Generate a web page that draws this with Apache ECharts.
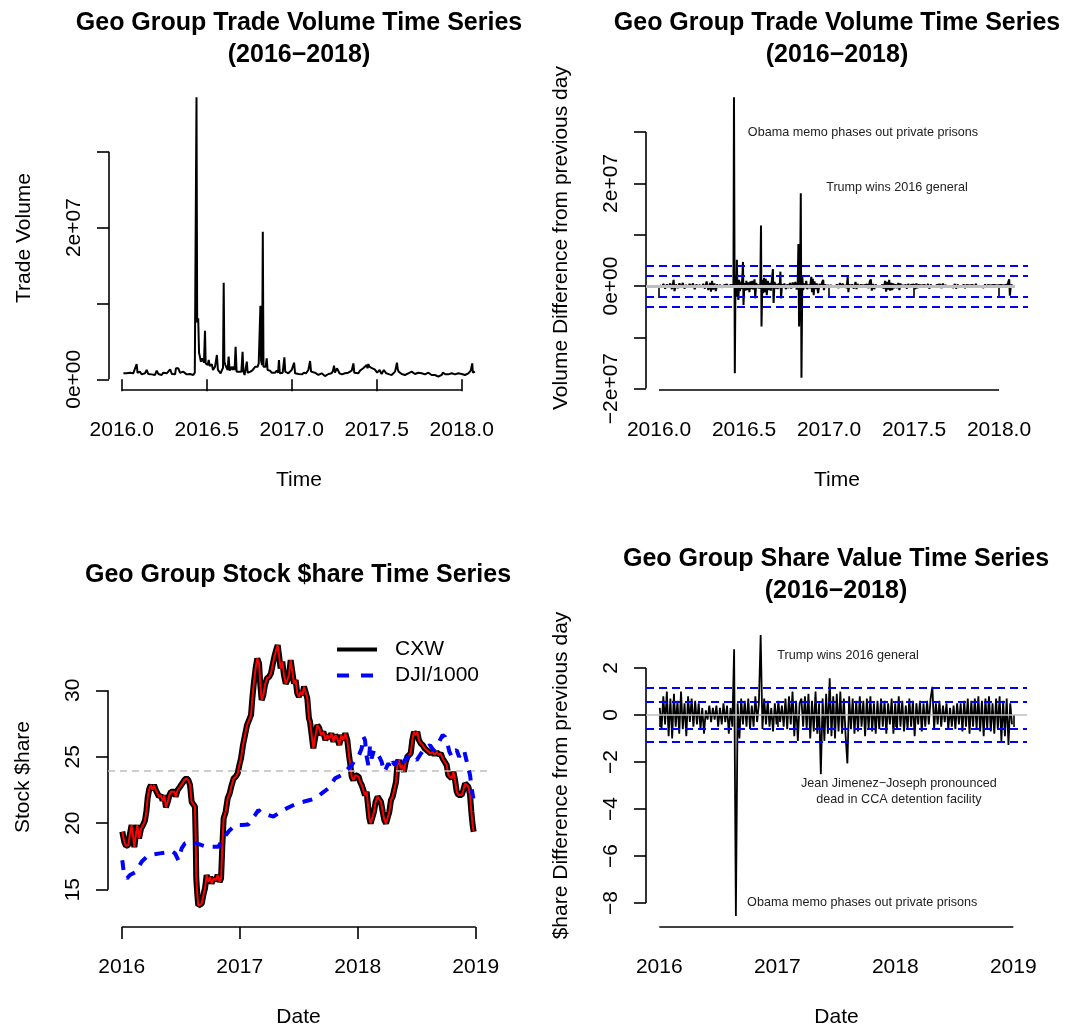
<!DOCTYPE html>
<html>
<head>
<meta charset="utf-8">
<title>Geo Group time series</title>
<script src="https://cdn.jsdelivr.net/npm/echarts@6/dist/echarts.min.js"></script>
<style>
  html, body { margin: 0; padding: 0; background: #fff; }
  #main { width: 1067px; height: 1029px; }
</style>
</head>
<body>
<div id="main"></div>
<script>
// ---------- data ----------
// daily trade volume: [decimal year, millions of shares]
const volume = [
  [2016.010,0.79],[2016.020,0.65],[2016.029,0.79],[2016.039,0.70],[2016.049,0.87],[2016.058,0.65],[2016.068,0.79],[2016.078,0.70],
  [2016.088,2.02],[2016.093,0.87],[2016.098,0.70],[2016.108,1.01],[2016.117,0.65],[2016.127,0.87],[2016.137,0.79],[2016.147,1.23],
  [2016.156,0.70],[2016.166,0.87],[2016.176,0.65],[2016.186,0.79],[2016.196,0.57],[2016.206,1.14],[2016.216,0.70],[2016.225,0.79],
  [2016.235,0.57],[2016.245,0.87],[2016.255,0.65],[2016.265,0.79],[2016.275,0.57],[2016.285,1.31],[2016.295,0.70],[2016.304,0.79],
  [2016.314,0.65],[2016.319,1.45],[2016.326,1.31],[2016.333,1.45],[2016.343,0.87],[2016.353,0.70],[2016.363,1.01],[2016.372,0.79],
  [2016.382,0.65],[2016.392,0.87],[2016.402,0.70],[2016.412,0.79],[2016.421,0.57],[2016.430,0.87],[2016.436,0.79],[2016.440,37.17],
  [2016.444,7.5],[2016.450,8.04],[2016.455,3.5],[2016.460,2.98],[2016.466,2.32],[2016.472,2.76],[2016.478,2.54],[2016.484,2.2],
  [2016.490,6.41],[2016.494,2.1],[2016.500,2.32],[2016.506,1.88],[2016.512,2.54],[2016.518,1.75],[2016.524,1.67],[2016.530,2.0],
  [2016.537,1.23],[2016.543,1.4],[2016.549,1.67],[2016.555,1.88],[2016.560,3.20],[2016.566,1.23],[2016.572,1.0],[2016.582,0.79],
  [2016.590,1.23],[2016.596,1.5],[2016.600,12.74],[2016.604,2.32],[2016.610,1.88],[2016.617,1.67],[2016.623,1.23],[2016.629,2.98],
  [2016.635,1.14],[2016.641,1.0],[2016.647,1.67],[2016.652,1.23],[2016.658,1.67],[2016.664,1.23],[2016.670,4.30],[2016.676,1.01],
  [2016.684,0.79],[2016.690,1.01],[2016.697,1.23],[2016.704,1.01],[2016.711,3.64],[2016.716,1.01],[2016.723,0.57],[2016.731,0.79],
  [2016.736,2.32],[2016.741,0.87],[2016.751,0.79],[2016.758,1.01],[2016.764,1.14],[2016.771,1.23],[2016.778,1.45],[2016.786,1.67],
  [2016.794,1.88],[2016.800,1.67],[2016.806,2.1],[2016.812,2.32],[2016.816,9.70],[2016.820,2.4],[2016.826,1.88],[2016.830,19.46],
  [2016.834,1.67],[2016.840,1.88],[2016.847,1.67],[2016.853,2.76],[2016.858,1.23],[2016.864,1.01],[2016.872,1.14],[2016.882,0.87],
  [2016.892,0.79],[2016.902,0.87],[2016.912,1.14],[2016.920,0.87],[2016.925,2.54],[2016.930,0.79],[2016.938,0.87],[2016.947,0.87],
  [2016.957,2.90],[2016.962,1.01],[2016.970,0.87],[2016.980,0.79],[2016.990,0.79],[2017.000,1.23],[2017.010,1.0],[2017.014,2.19],
  [2017.020,0.79],[2017.030,0.57],[2017.040,0.70],[2017.050,0.57],[2017.060,0.65],[2017.072,0.87],[2017.084,0.79],[2017.098,1.23],
  [2017.108,2.41],[2017.114,1.01],[2017.124,0.87],[2017.137,0.87],[2017.147,0.65],[2017.157,0.57],[2017.166,0.79],[2017.176,0.79],
  [2017.186,0.57],[2017.196,0.43],[2017.206,0.65],[2017.216,0.70],[2017.226,0.79],[2017.235,0.79],[2017.243,1.14],[2017.249,1.80],
  [2017.254,0.87],[2017.259,0.87],[2017.266,1.45],[2017.274,1.45],[2017.281,0.79],[2017.288,0.79],[2017.296,0.65],[2017.304,0.57],
  [2017.313,0.79],[2017.323,0.79],[2017.333,0.87],[2017.343,1.01],[2017.353,1.14],[2017.363,2.10],[2017.368,0.87],[2017.377,0.87],
  [2017.392,0.79],[2017.402,1.14],[2017.412,1.23],[2017.421,1.45],[2017.431,1.67],[2017.441,1.88],[2017.446,1.45],[2017.451,2.02],
  [2017.456,1.67],[2017.461,1.67],[2017.466,1.88],[2017.470,1.88],[2017.475,1.45],[2017.480,1.45],[2017.488,1.31],[2017.496,1.31],
  [2017.503,0.87],[2017.510,0.79],[2017.517,1.23],[2017.523,1.23],[2017.529,0.70],[2017.535,0.87],[2017.542,1.23],[2017.549,1.23],
  [2017.556,0.79],[2017.563,0.79],[2017.575,0.65],[2017.588,0.57],[2017.598,0.70],[2017.608,1.01],[2017.615,1.2],[2017.619,2.19],
  [2017.624,1.3],[2017.629,1.01],[2017.638,0.87],[2017.647,0.70],[2017.656,0.79],[2017.666,0.57],[2017.676,0.70],[2017.686,0.79],
  [2017.696,0.87],[2017.706,1.01],[2017.716,0.79],[2017.725,0.70],[2017.735,0.79],[2017.745,0.87],[2017.755,0.79],[2017.765,0.79],
  [2017.775,0.70],[2017.784,0.65],[2017.794,0.79],[2017.804,0.87],[2017.814,0.79],[2017.823,0.57],[2017.833,0.65],[2017.843,0.57],
  [2017.853,0.50],[2017.863,0.35],[2017.872,0.57],[2017.882,0.57],[2017.889,0.87],[2017.896,0.87],[2017.905,0.65],[2017.913,0.79],
  [2017.921,0.65],[2017.931,0.79],[2017.941,0.79],[2017.951,0.65],[2017.961,0.65],[2017.970,0.79],[2017.980,0.79],[2017.990,0.65],
  [2018.000,0.70],[2018.010,0.70],[2018.019,0.57],[2018.029,0.70],[2018.039,0.79],[2018.046,0.87],[2018.053,1.14],[2018.058,1.0],
  [2018.062,2.10],[2018.066,0.87],[2018.072,0.95],[2018.078,1.01]
];

// change of volume from the previous day: [decimal year, millions]
const volumeDiff = [
  [2016.006,0.2],[2016.016,-0.3],[2016.026,0.4],[2016.036,-0.5],[2016.046,0.3],[2016.056,-0.2],[2016.066,0.5],[2016.076,-0.6],
  [2016.086,1.2],[2016.091,-1.0],[2016.100,0.3],[2016.110,-0.4],[2016.120,0.5],[2016.130,-0.3],[2016.140,0.6],[2016.150,-0.5],
  [2016.160,0.2],[2016.170,-0.3],[2016.180,0.4],[2016.190,-0.2],[2016.200,0.5],[2016.210,-0.6],[2016.220,0.3],[2016.230,-0.2],
  [2016.240,0.2],[2016.250,-0.3],[2016.260,0.4],[2016.270,-0.5],[2016.280,0.9],[2016.290,-0.8],[2016.300,0.6],[2016.306,-1.1],
  [2016.312,1.0],[2016.318,-0.7],[2016.326,0.5],[2016.334,-1.0],[2016.342,0.3],[2016.350,-0.2],[2016.360,0.2],[2016.370,-0.3],
  [2016.380,0.1],[2016.390,-0.2],[2016.400,0.3],[2016.410,-0.2],[2016.420,0.2],[2016.430,-0.1],[2016.438,0.1],[2016.441,36.8],
  [2016.446,-17.0],[2016.450,2.0],[2016.455,-2.1],[2016.458,5.1],[2016.462,-1.5],[2016.467,-2.7],[2016.471,1.2],[2016.476,-1.0],
  [2016.480,0.8],[2016.484,-0.6],[2016.490,1.5],[2016.494,4.7],[2016.497,-3.7],[2016.502,0.6],[2016.508,-0.9],[2016.514,1.0],
  [2016.520,-0.8],[2016.526,0.7],[2016.532,-1.2],[2016.538,0.9],[2016.544,-0.6],[2016.550,1.0],[2016.556,-0.7],[2016.562,1.3],
  [2016.566,-2.4],[2016.572,0.6],[2016.578,-0.4],[2016.584,0.3],[2016.590,-0.5],[2016.596,0.4],[2016.600,11.8],[2016.603,-7.9],
  [2016.608,1.2],[2016.613,-1.4],[2016.618,1.6],[2016.623,-1.2],[2016.628,1.4],[2016.634,-1.8],[2016.640,1.0],[2016.646,-0.8],
  [2016.652,0.6],[2016.658,-0.9],[2016.664,1.2],[2016.670,3.3],[2016.674,-3.3],[2016.680,0.8],[2016.686,-0.5],[2016.692,0.4],
  [2016.698,-0.6],[2016.704,0.5],[2016.710,-0.4],[2016.714,2.8],[2016.718,-2.4],[2016.724,0.4],[2016.730,-0.3],[2016.738,0.5],
  [2016.746,-0.6],[2016.754,0.3],[2016.762,-0.4],[2016.770,0.6],[2016.778,-0.5],[2016.786,0.7],[2016.794,-0.3],[2016.802,0.8],
  [2016.810,-0.7],[2016.816,0.6],[2016.820,8.2],[2016.824,-7.9],[2016.830,0.4],[2016.834,18.1],[2016.838,-17.9],[2016.843,1.8],
  [2016.848,-0.8],[2016.854,0.5],[2016.860,-0.4],[2016.866,1.0],[2016.872,-0.6],[2016.880,0.3],[2016.888,-0.4],[2016.896,1.8],
  [2016.900,-1.2],[2016.905,1.4],[2016.910,-1.8],[2016.915,0.9],[2016.920,-0.6],[2016.928,0.5],[2016.936,-1.4],[2016.944,0.4],
  [2016.952,-0.3],[2016.960,0.8],[2016.966,1.2],[2016.970,-0.8],[2016.978,0.3],[2016.986,-0.2],[2016.994,0.2],[2017.002,-0.3],
  [2017.010,0.2],[2017.018,-0.2],[2017.026,0.1],[2017.036,-0.2],[2017.046,0.3],[2017.056,-0.4],[2017.064,0.6],[2017.072,-0.3],
  [2017.080,0.5],[2017.088,-0.3],[2017.096,0.2],[2017.104,-0.4],[2017.110,1.8],[2017.114,-1.2],[2017.120,0.3],[2017.128,-0.2],
  [2017.136,0.3],[2017.146,-0.5],[2017.156,0.8],[2017.162,-0.6],[2017.168,0.4],[2017.176,-0.3],[2017.184,0.2],[2017.194,-0.1],
  [2017.204,0.1],[2017.214,-0.2],[2017.224,0.3],[2017.232,-0.4],[2017.240,0.9],[2017.246,1.3],[2017.252,-0.9],[2017.258,0.4],
  [2017.266,-0.6],[2017.274,0.3],[2017.284,-0.2],[2017.294,0.1],[2017.304,-0.2],[2017.314,0.3],[2017.322,-0.5],[2017.330,1.0],
  [2017.336,-1.1],[2017.342,0.8],[2017.348,-0.7],[2017.354,1.2],[2017.360,-0.9],[2017.366,0.6],[2017.372,-0.8],[2017.378,0.5],
  [2017.384,-0.4],[2017.392,0.3],[2017.400,-0.4],[2017.408,0.6],[2017.414,-0.8],[2017.420,0.5],[2017.426,-0.3],[2017.434,0.2],
  [2017.442,-0.2],[2017.450,0.3],[2017.458,-0.5],[2017.466,0.4],[2017.474,-0.3],[2017.482,0.2],[2017.490,-0.1],[2017.500,0.3],
  [2017.508,-0.6],[2017.514,0.5],[2017.520,-0.4],[2017.526,0.2],[2017.534,-0.1],[2017.544,0.1],[2017.554,-0.2],[2017.564,0.2],
  [2017.574,-0.3],[2017.582,0.4],[2017.590,-0.5],[2017.598,0.3],[2017.606,-0.2],[2017.614,0.1],[2017.624,-0.2],[2017.634,0.2],
  [2017.644,-0.1],[2017.654,0.3],[2017.662,-0.4],[2017.670,0.5],[2017.678,-0.3],[2017.686,0.2],[2017.694,-0.2],[2017.702,0.1],
  [2017.712,-0.1],[2017.722,0.2],[2017.732,-0.3],[2017.740,0.4],[2017.748,-0.5],[2017.756,0.3],[2017.764,-0.2],[2017.772,0.1],
  [2017.782,-0.2],[2017.792,0.3],[2017.800,-0.4],[2017.808,0.2],[2017.816,-0.1],[2017.826,0.1],[2017.836,-0.2],[2017.846,0.2],
  [2017.856,-0.3],[2017.864,0.4],[2017.872,-0.2],[2017.880,0.1],[2017.890,-0.1],[2017.900,0.2],[2017.910,-0.3],[2017.918,0.3],
  [2017.926,-0.2],[2017.934,0.2],[2017.942,-0.1],[2017.950,0.1],[2017.960,-0.2],[2017.970,0.2],[2017.980,-0.1],[2017.990,0.1],
  [2018.000,-0.2],[2018.010,0.2],[2018.020,-0.1],[2018.030,0.1],[2018.040,-0.2],[2018.050,0.3],[2018.060,1.3],[2018.064,-1.9],
  [2018.070,0.2],[2018.080,0.1]
];

// CXW share price: [decimal year, dollars]
const cxw = [
  [2016.005,19.36],[2016.022,18.6],[2016.036,18.3],[2016.056,18.35],[2016.068,19.1],[2016.084,19.86],[2016.099,18.85],[2016.107,18.2],
  [2016.121,19.2],[2016.132,19.86],[2016.147,18.85],[2016.164,19.6],[2016.181,19.86],[2016.197,20.2],[2016.209,20.86],[2016.220,21.9],
  [2016.234,22.6],[2016.248,22.87],[2016.260,22.5],[2016.274,22.87],[2016.288,22.5],[2016.302,22.6],[2016.316,22.0],[2016.333,22.1],
  [2016.347,21.7],[2016.361,22.1],[2016.375,21.2],[2016.390,21.6],[2016.404,22.1],[2016.418,22.37],[2016.432,22.5],[2016.446,22.37],
  [2016.457,22.0],[2016.474,22.5],[2016.494,22.74],[2016.514,23.0],[2016.531,23.24],[2016.548,23.37],[2016.565,23.24],[2016.579,22.87],
  [2016.593,21.6],[2016.607,21.5],[2016.621,21.24],[2016.627,18.85],[2016.632,15.84],[2016.641,14.6],[2016.649,13.8],[2016.664,13.7],
  [2016.678,13.94],[2016.692,14.6],[2016.706,15.1],[2016.720,16.1],[2016.734,15.6],[2016.748,15.97],[2016.762,15.47],[2016.779,15.84],
  [2016.796,15.7],[2016.813,16.1],[2016.830,15.6],[2016.842,15.84],[2016.853,18.35],[2016.864,20.36],[2016.881,20.86],[2016.898,21.86],
  [2016.915,22.24],[2016.932,22.87],[2016.949,23.37],[2016.966,23.5],[2016.983,23.75],[2016.997,24.37],[2017.011,24.87],[2017.028,25.88],
  [2017.045,26.63],[2017.062,27.38],[2017.079,27.76],[2017.096,28.14],[2017.107,29.39],[2017.121,30.64],[2017.135,31.65],[2017.149,32.4],
  [2017.164,32.02],[2017.175,30.4],[2017.186,29.27],[2017.200,29.64],[2017.214,30.39],[2017.231,30.9],[2017.248,31.0],[2017.265,31.27],
  [2017.279,31.9],[2017.293,32.5],[2017.308,33.0],[2017.322,33.4],[2017.333,32.65],[2017.347,31.65],[2017.361,32.15],[2017.375,31.15],
  [2017.390,30.5],[2017.404,30.77],[2017.418,31.15],[2017.432,32.27],[2017.446,31.4],[2017.460,30.5],[2017.474,30.77],[2017.488,29.77],
  [2017.502,29.52],[2017.517,29.9],[2017.531,29.64],[2017.545,30.27],[2017.559,30.14],[2017.573,29.39],[2017.587,27.88],[2017.596,27.63],
  [2017.610,26.63],[2017.624,25.63],[2017.638,26.38],[2017.658,27.38],[2017.675,27.13],[2017.689,26.63],[2017.709,26.88],[2017.726,26.25],
  [2017.743,26.63],[2017.760,26.38],[2017.777,26.76],[2017.794,26.13],[2017.811,26.63],[2017.828,26.38],[2017.844,25.88],[2017.861,26.63],
  [2017.878,26.25],[2017.895,26.76],[2017.912,26.25],[2017.926,25.13],[2017.938,24.37],[2017.949,23.5],[2017.963,23.24],[2017.980,23.62],
  [2017.994,23.75],[2018.008,23.5],[2018.020,23.12],[2018.034,22.87],[2018.048,22.49],[2018.062,22.1],[2018.076,22.37],[2018.087,21.36],
  [2018.099,20.36],[2018.110,19.98],[2018.124,20.1],[2018.138,20.86],[2018.152,21.61],[2018.169,21.99],[2018.183,22.12],[2018.197,21.61],
  [2018.212,20.86],[2018.226,20.23],[2018.240,19.98],[2018.254,19.86],[2018.268,20.86],[2018.282,21.74],[2018.296,21.99],[2018.310,22.12],
  [2018.325,23.12],[2018.336,24.37],[2018.350,24.75],[2018.364,24.12],[2018.378,24.37],[2018.392,23.87],[2018.407,24.62],[2018.421,25.0],
  [2018.435,25.13],[2018.449,25.25],[2018.463,26.25],[2018.477,26.88],[2018.491,26.63],[2018.505,26.88],[2018.519,26.25],[2018.534,26.0],
  [2018.551,25.88],[2018.567,25.63],[2018.584,25.5],[2018.601,25.38],[2018.618,25.25],[2018.635,25.38],[2018.652,25.13],[2018.669,25.38],
  [2018.686,25.13],[2018.703,25.25],[2018.720,24.87],[2018.737,24.62],[2018.754,24.37],[2018.768,23.62],[2018.782,23.75],[2018.797,23.37],
  [2018.811,23.87],[2018.825,23.24],[2018.839,22.37],[2018.853,22.12],[2018.867,22.24],[2018.881,22.12],[2018.895,22.49],[2018.910,22.99],
  [2018.924,23.12],[2018.938,22.74],[2018.952,22.12],[2018.963,20.86],[2018.974,19.86],[2018.983,19.36]
];

// Dow Jones index / 1000: [decimal year, value]
const dji = [
  [2016.005,17.22],[2016.017,16.35],[2016.045,15.85],[2016.070,16.1],[2016.113,16.3],[2016.127,16.47],[2016.169,17.1],[2016.212,17.47],
  [2016.268,17.65],[2016.325,17.73],[2016.381,17.8],[2016.424,17.9],[2016.452,17.73],[2016.480,17.22],[2016.508,18.1],[2016.536,18.48],
  [2016.579,18.6],[2016.635,18.48],[2016.678,18.35],[2016.720,18.23],[2016.763,18.23],[2016.819,18.23],[2016.861,18.85],[2016.904,19.36],
  [2016.960,19.86],[2017.017,19.86],[2017.073,19.9],[2017.130,20.61],[2017.158,20.99],[2017.186,20.74],[2017.243,20.61],[2017.285,20.49],
  [2017.328,20.74],[2017.370,20.99],[2017.426,21.24],[2017.483,21.49],[2017.539,21.61],[2017.596,21.74],[2017.638,21.86],[2017.695,22.24],
  [2017.751,22.62],[2017.808,23.37],[2017.864,23.62],[2017.907,24.0],[2017.949,24.37],[2017.977,24.75],[2018.006,25.0],[2018.034,25.63],
  [2018.048,26.51],[2018.062,26.25],[2018.076,25.0],[2018.090,24.37],[2018.104,25.75],[2018.118,24.87],[2018.138,25.5],[2018.161,25.38],
  [2018.183,25.0],[2018.203,24.62],[2018.223,23.87],[2018.240,24.12],[2018.260,24.5],[2018.279,24.12],[2018.296,24.62],[2018.316,24.37],
  [2018.336,24.75],[2018.358,25.0],[2018.387,24.62],[2018.415,24.87],[2018.443,25.13],[2018.471,25.0],[2018.500,24.75],[2018.528,25.13],
  [2018.556,25.5],[2018.585,25.63],[2018.613,25.88],[2018.641,25.5],[2018.669,25.75],[2018.697,26.25],[2018.720,26.63],[2018.740,26.5],
  [2018.760,26.0],[2018.777,25.38],[2018.797,25.0],[2018.816,25.38],[2018.839,25.5],[2018.859,25.0],[2018.881,25.38],[2018.901,25.5],
  [2018.918,24.87],[2018.938,24.12],[2018.952,23.62],[2018.966,22.62],[2018.980,21.86]
];

// change of share value from the previous day, one reading every 0.015 year
const shareDiffStart = 2016.004;
const shareDiffStep = 0.015;
const shareDiff = [
  0.3,-0.6,0.8,-0.4,1.0,-0.9,0.7,-1.0,0.9,-0.5,
  0.6,-0.8,1.0,-0.6,0.5,-0.9,0.8,-0.3,0.7,-0.5,
  0.6,-0.4,0.5,-0.6,0.3,-0.8,0.2,-0.2,0.4,-0.3,
  0.3,-0.2,0.4,-0.5,0.3,-0.4,0.5,-0.3,0.4,-0.8,
  0.3,-0.5,2.8,-8.55,0.5,-1.0,0.7,-0.4,0.6,-0.5,
  0.7,-0.6,0.4,-0.5,0.8,-0.3,0.5,3.4,-0.6,0.7,
  -0.4,0.6,-0.5,0.3,-0.7,0.5,-0.4,0.6,-0.3,0.4,
  -0.5,0.7,-0.6,0.8,-0.4,1.0,-0.9,0.6,-1.1,0.5,
  0.7,-0.5,0.8,-0.6,0.9,-1.0,0.6,-0.7,1.0,-0.8,
  0.5,-2.52,0.7,-1.1,0.9,-0.8,1.56,-0.9,0.8,-1.0,
  0.9,-0.7,1.0,-0.8,0.7,-0.9,-2.06,0.8,-0.6,0.7,
  -0.8,0.6,-0.7,0.8,-0.5,0.6,-0.9,0.7,-0.6,0.8,
  -0.7,0.5,-0.8,0.6,-0.6,0.7,-0.5,0.6,-0.8,0.5,
  -0.4,0.7,-0.8,0.5,-0.6,0.8,-0.5,0.6,-0.7,0.4,
  -0.6,0.7,-0.5,0.6,-0.9,0.5,-0.4,0.6,-0.7,0.5,
  -0.5,0.6,-0.4,0.7,1.2,-0.6,0.5,-0.4,0.6,-0.5,
  0.4,-0.3,0.5,-0.6,0.3,-0.5,0.4,-0.6,0.5,-0.4,
  0.5,-0.7,0.6,-0.5,0.7,-0.8,0.6,-0.5,0.7,-0.6,
  0.8,-0.7,0.6,-0.9,0.7,-0.6,0.8,-0.7,0.5,-0.8,
  0.7,-0.6,0.8,-1.1,0.6,-0.9,0.7,-1.28,0.5,-0.4
];

// reference lines
const volDiffBands = [-4, -2, 2, 4];
const shareDiffBands = [-1.14, -0.57, 0.57, 1.14];
const cxwMean = 23.95;

// ticks and their labels
const yearTicksTop = [2016, 2016.5, 2017, 2017.5, 2018];
const yearTicksBottom = [2016, 2017, 2018, 2019];
const volTicks = [0, 10, 20, 30];
const volLabelAt = [0, 20];
const volDiffTicks = [-20, -10, 0, 10, 20, 30];
const volDiffLabelAt = [-20, 0, 20];
const priceTicks = [15, 20, 25, 30];
const shareDiffTicks = [-8, -6, -4, -2, 0, 2];

// text notes placed at data coordinates
const volDiffNotes = [
  { year: 2017.2, value: 30, text: 'Obama memo phases out private prisons' },
  { year: 2017.4, value: 19.2, text: 'Trump wins 2016 general' }
];
const shareDiffNotes = [
  { year: 2017.6, value: 2.55, text: 'Trump wins 2016 general' },
  { year: 2018.03, value: -3.26, text: 'Jean Jimenez\u2212Joseph pronounced\ndead in CCA detention facility' },
  { year: 2017.72, value: -8.0, text: 'Obama memo phases out private prisons' }
];

// ---------- chart ----------
const FONT = '"Liberation Sans", Arial, Helvetica, sans-serif';
const minus = s => String(s).replace('-', '\u2212');
const sci = v => v === 0 ? '0e+00' : minus((v < 0 ? '-' : '') + Math.abs(v / 10) + 'e+07');

// plot regions (R leaves 4% of the data range either side)
const P = [
  { left: 109, top: 86, width: 380, height: 304, x: [2015.9253, 2018.1606], y: [-1.41, 38.66] },
  { left: 646, top: 86, width: 382, height: 304, x: [2015.9235, 2018.1706], y: [-20.27, 38.99] },
  { left: 108, top: 627, width: 381, height: 300, x: [2015.8839, 2019.1127], y: [12.19, 34.76] },
  { left: 646, top: 624, width: 381, height: 303, x: [2015.8873, 2019.1161], y: [-9.021, 3.872] }
];

const tickStyle = { show: true, length: 12, inside: false, lineStyle: { color: '#000', width: 1.6 } };
const labelText = { fontSize: 21, color: '#000', fontFamily: FONT };

function xAxisFor(i, ticks, fmt, name) {
  return {
    type: 'value', gridIndex: i, min: P[i].x[0], max: P[i].x[1],
    name: name, nameLocation: 'middle', nameGap: 80,
    nameTextStyle: labelText,
    axisLine: { show: false }, splitLine: { show: false },
    axisTick: Object.assign({ customValues: ticks }, tickStyle),
    axisLabel: Object.assign({ customValues: ticks, formatter: fmt, margin: 30 }, labelText)
  };
}
function yAxisFor(i, ticks, labelAt, fmt, name) {
  return {
    type: 'value', gridIndex: i, min: P[i].y[0], max: P[i].y[1],
    name: name, nameLocation: 'middle', nameGap: 74,
    nameTextStyle: labelText,
    axisLine: { show: false }, splitLine: { show: false },
    axisTick: Object.assign({ customValues: ticks }, tickStyle),
    axisLabel: Object.assign({ customValues: labelAt, formatter: fmt, margin: 24, rotate: 90 }, labelText)
  };
}

// R style axis lines: from the first to the last tick only
function frame(i, xt, yt) {
  const x0 = P[i].x[0], y0 = P[i].y[0];
  return {
    type: 'line', xAxisIndex: i, yAxisIndex: i, data: [], clip: false, silent: true, z: 1,
    markLine: {
      silent: true, symbol: ['none', 'none'], label: { show: false },
      lineStyle: { color: '#000', width: 1.6, type: 'solid' },
      data: [
        [{ coord: [xt[0], y0] }, { coord: [xt[xt.length - 1], y0] }],
        [{ coord: [x0, yt[0]] }, { coord: [x0, yt[yt.length - 1]] }]
      ]
    }
  };
}

function hLines(i, values, style, z) {
  return {
    type: 'line', xAxisIndex: i, yAxisIndex: i, data: [], silent: true, z: z,
    markLine: {
      silent: true, symbol: ['none', 'none'], label: { show: false },
      lineStyle: style,
      data: values.map(v => ({ yAxis: v }))
    }
  };
}

function notes(i, list) {
  return {
    type: 'line', xAxisIndex: i, yAxisIndex: i, data: [], silent: true, z: 6,
    markPoint: {
      silent: true, symbol: 'circle', symbolSize: 1,
      itemStyle: { color: 'rgba(0,0,0,0)' },
      label: { show: true, position: 'inside', color: '#222', fontSize: 12.6, lineHeight: 16.5, fontFamily: FONT, align: 'center' },
      data: list.map(n => ({ coord: [n.year, n.value], label: { formatter: n.text } }))
    }
  };
}

const blackLine = (i, data, w, z) => ({
  type: 'line', xAxisIndex: i, yAxisIndex: i, data: data, symbol: 'none', showSymbol: false,
  lineStyle: { color: '#000', width: w }, z: z, silent: true
});

const titleStyle = { fontSize: 25, fontWeight: 'bold', color: '#000', lineHeight: 32, fontFamily: FONT };

const chart = echarts.init(document.getElementById('main'), null, { renderer: 'canvas' });
chart.setOption({
  animation: false,
  backgroundColor: '#fff',
  textStyle: { fontFamily: FONT },
  title: [
    { text: 'Geo Group Trade Volume Time Series\n(2016\u22122018)', left: 299, top: 7, textAlign: 'center', padding: 0, textStyle: titleStyle },
    { text: 'Geo Group Trade Volume Time Series\n(2016\u22122018)', left: 837, top: 7, textAlign: 'center', padding: 0, textStyle: titleStyle },
    { text: 'Geo Group Stock $hare Time Series', left: 298, top: 559, textAlign: 'center', padding: 0, textStyle: titleStyle },
    { text: 'Geo Group Share Value Time Series\n(2016\u22122018)', left: 836, top: 543, textAlign: 'center', padding: 0, textStyle: titleStyle }
  ],
  legend: {
    data: [
      { name: 'CXW', lineStyle: { color: '#000', width: 4, type: 'solid' } },
      { name: 'DJI/1000', lineStyle: { color: '#0000ff', width: 4, type: [12, 12] } }
    ],
    orient: 'vertical', left: 335, top: 639, padding: 0,
    itemWidth: 40, itemHeight: 14, itemGap: 5, selectedMode: false,
    itemStyle: { opacity: 0 },
    textStyle: { fontSize: 21, color: '#000', fontFamily: FONT, padding: [0, 0, 0, 13] }
  },
  grid: P.map(p => ({ left: p.left, top: p.top, width: p.width, height: p.height, containLabel: false })),
  xAxis: [
    xAxisFor(0, yearTicksTop, v => v.toFixed(1), 'Time'),
    xAxisFor(1, yearTicksTop, v => v.toFixed(1), 'Time'),
    xAxisFor(2, yearTicksBottom, v => String(v), 'Date'),
    xAxisFor(3, yearTicksBottom, v => String(v), 'Date')
  ],
  yAxis: [
    yAxisFor(0, volTicks, volLabelAt, sci, 'Trade Volume'),
    yAxisFor(1, volDiffTicks, volDiffLabelAt, sci, 'Volume Difference from previous day'),
    yAxisFor(2, priceTicks, priceTicks, v => String(v), 'Stock $hare'),
    yAxisFor(3, shareDiffTicks, shareDiffTicks, v => minus(v), '$hare Difference from previous day')
  ],
  series: [
    // panel 1
    frame(0, yearTicksTop, volTicks),
    blackLine(0, volume, 2, 3),
    // panel 2
    frame(1, yearTicksTop, volDiffTicks),
    blackLine(1, volumeDiff, 2, 3),
    hLines(1, volDiffBands, { color: '#0000ff', width: 1.8, type: [8, 5] }, 4),
    {
      type: 'line', xAxisIndex: 1, yAxisIndex: 1, data: [], silent: true, z: 4, clip: false,
      markLine: {
        silent: true, symbol: ['none', 'none'], label: { show: false },
        lineStyle: { color: '#bebebe', width: 3, type: 'solid' },
        data: [[{ coord: [P[1].x[0], 0] }, { coord: [volumeDiff[volumeDiff.length - 1][0] + 0.014, 0] }]]
      }
    },
    notes(1, volDiffNotes),
    // panel 3
    frame(2, yearTicksBottom, priceTicks),
    hLines(2, [cxwMean], { color: '#bebebe', width: 1.6, type: [7, 5] }, 2),
    Object.assign(blackLine(2, cxw, 6, 3), { name: 'CXW' }),
    {
      name: 'CXW (red)', type: 'line', xAxisIndex: 2, yAxisIndex: 2, data: cxw, symbol: 'none',
      lineStyle: { color: '#ff0000', width: 2 }, z: 4, silent: true
    },
    {
      name: 'DJI/1000', type: 'line', xAxisIndex: 2, yAxisIndex: 2, data: dji, symbol: 'none',
      lineStyle: { color: '#0000ff', width: 4, type: [10, 9] }, z: 5, silent: true
    },
    // panel 4
    frame(3, yearTicksBottom, shareDiffTicks),
    blackLine(3, shareDiff.map((v, k) => [shareDiffStart + k * shareDiffStep, v]), 1.8, 3),
    hLines(3, [0], { color: '#bebebe', width: 1.6, type: 'solid' }, 4),
    hLines(3, shareDiffBands, { color: '#0000ff', width: 1.8, type: [8, 5] }, 4),
    notes(3, shareDiffNotes)
  ]
});
</script>
</body>
</html>
